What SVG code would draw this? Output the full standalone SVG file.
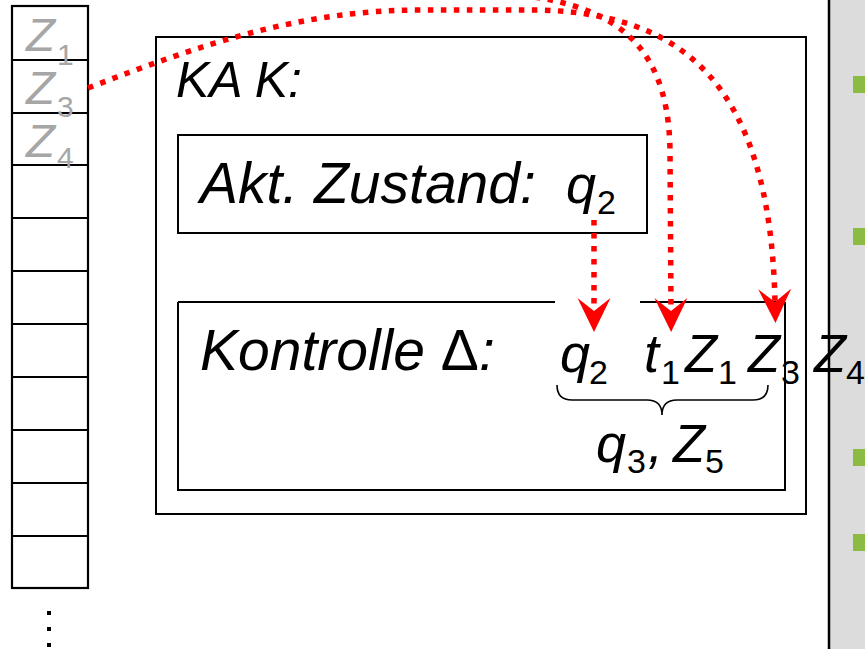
<svg xmlns="http://www.w3.org/2000/svg" width="865" height="649" viewBox="0 0 865 649">
  <style>
    .box { fill: none; stroke: #000; stroke-width: 2; }
    .cell { fill: none; stroke: #000; stroke-width: 2.2; }
    .t { font-family: "Liberation Sans", Arial, sans-serif; font-style: italic; fill: #000; }
    .big { font-size: 57px; }
    .ka { font-size: 50px; }
    .m { font-size: 54px; }
    .tz { font-size: 47px; }
    .sub { font-family: "Liberation Sans", Arial, sans-serif; font-style: normal; font-size: 34px; fill: #000; }
    .tsub { font-size: 30px; }
    .tape { fill: #a6a6a6; }
    .flow { fill: none; stroke: #ff0000; stroke-width: 5.5; stroke-dasharray: 5.5 7.5; }
    .brace { fill: none; stroke: #000; stroke-width: 1.6; }
  </style>
  <defs>
    <marker id="head" markerUnits="userSpaceOnUse" viewBox="0 -17 34 34" markerWidth="34" markerHeight="34" refX="13" refY="0" orient="auto">
      <path d="M0,-16.5 L34,0 L0,16.5 L13,0 Z" fill="#ff0000"/>
    </marker>
  </defs>

  <rect width="865" height="649" fill="#fff"/>

  <!-- side panel -->
  <g id="panel">
    <rect x="829" y="0" width="36" height="649" fill="#dcdcdc"/>
    <line x1="829" y1="0" x2="829" y2="649" stroke="#000" stroke-width="2.5"/>
    <rect x="853" y="76" width="12" height="17" fill="#8cbb44"/>
    <rect x="853" y="228" width="12" height="17" fill="#8cbb44"/>
    <rect x="853" y="449" width="12" height="17" fill="#8cbb44"/>
    <rect x="853" y="534" width="12" height="17" fill="#8cbb44"/>
  </g>

  <!-- tape -->
  <g id="tape">
    <rect class="cell" x="12" y="6" width="76" height="582"/>
    <line class="cell" x1="12" y1="60" x2="88" y2="60"/>
    <line class="cell" x1="12" y1="113" x2="88" y2="113"/>
    <line class="cell" x1="12" y1="165" x2="88" y2="165"/>
    <line class="cell" x1="12" y1="218" x2="88" y2="218"/>
    <line class="cell" x1="12" y1="271" x2="88" y2="271"/>
    <line class="cell" x1="12" y1="324" x2="88" y2="324"/>
    <line class="cell" x1="12" y1="377" x2="88" y2="377"/>
    <line class="cell" x1="12" y1="430" x2="88" y2="430"/>
    <line class="cell" x1="12" y1="483" x2="88" y2="483"/>
    <line class="cell" x1="12" y1="536" x2="88" y2="536"/>
    <text class="t tz tape" x="26" y="51" textLength="29" lengthAdjust="spacingAndGlyphs">Z</text>
    <text class="sub tsub tape" x="57" y="65">1</text>
    <text class="t tz tape" x="26" y="104" textLength="29" lengthAdjust="spacingAndGlyphs">Z</text>
    <text class="sub tsub tape" x="57" y="117">3</text>
    <text class="t tz tape" x="26" y="157" textLength="29" lengthAdjust="spacingAndGlyphs">Z</text>
    <text class="sub tsub tape" x="57" y="168">4</text>
    <rect x="47" y="611" width="4" height="4" fill="#000"/>
    <rect x="47" y="627" width="4" height="4" fill="#000"/>
    <rect x="47" y="643" width="4" height="4" fill="#000"/>
  </g>

  <!-- automaton -->
  <g id="automaton">
    <rect class="box" x="156" y="37" width="650" height="477"/>
    <text class="t ka" x="176" y="97">KA K:</text>
  </g>

  <g id="state">
    <rect class="box" x="178" y="135" width="469" height="98"/>
    <text class="t big" x="200" y="203">Akt. Zustand:</text>
    <text class="t m" x="566" y="203">q</text>
    <text class="sub" x="597" y="214">2</text>
  </g>

  <g id="control">
    <line class="box" x1="178" y1="302" x2="555" y2="302"/>
    <line class="box" x1="640" y1="302" x2="785" y2="302"/>
    <polyline class="box" points="178,302 178,490 785,490 785,302"/>
    <text class="t big" x="200" y="370">Kontrolle <tspan font-style="normal">Δ</tspan>:</text>
    <text class="t m" x="560" y="372">q</text>
    <text class="sub" x="589" y="384">2</text>
    <text class="t m" x="644" y="372">t</text>
    <text class="sub" x="661" y="384">1</text>
    <text class="t m" x="685" y="372" textLength="32" lengthAdjust="spacingAndGlyphs">Z</text>
    <text class="sub" x="718" y="384">1</text>
    <text class="t m" x="748" y="372" textLength="32" lengthAdjust="spacingAndGlyphs">Z</text>
    <text class="sub" x="781" y="384">3</text>
    <text class="t m" x="814" y="372" textLength="32" lengthAdjust="spacingAndGlyphs">Z</text>
    <text class="sub" x="846" y="384">4</text>
    <path class="brace" d="M557,385 Q557,400 572,400 L647,400 Q662,400 662,415 Q662,400 677,400 L753,400 Q768,400 768,385"/>
    <text class="t m" x="596" y="462">q</text>
    <text class="sub" x="627" y="473">3</text>
    <text class="t m" x="648" y="462">,</text>
    <text class="t m" x="673" y="462" textLength="32" lengthAdjust="spacingAndGlyphs">Z</text>
    <text class="sub" x="705" y="473">5</text>
  </g>

  <!-- data flow -->
  <g id="connectors">
    <path class="flow" d="M594,220 L594,311" marker-end="url(#head)"/>
    <path class="flow" d="M470,-8 C600,-5 668,30 670,150 L671,311" marker-end="url(#head)"/>
    <path class="flow" d="M88,88 C200,45 300,10 420,10 L540,10 C680,14 770,80 775,302" marker-end="url(#head)"/>
  </g>
</svg>
